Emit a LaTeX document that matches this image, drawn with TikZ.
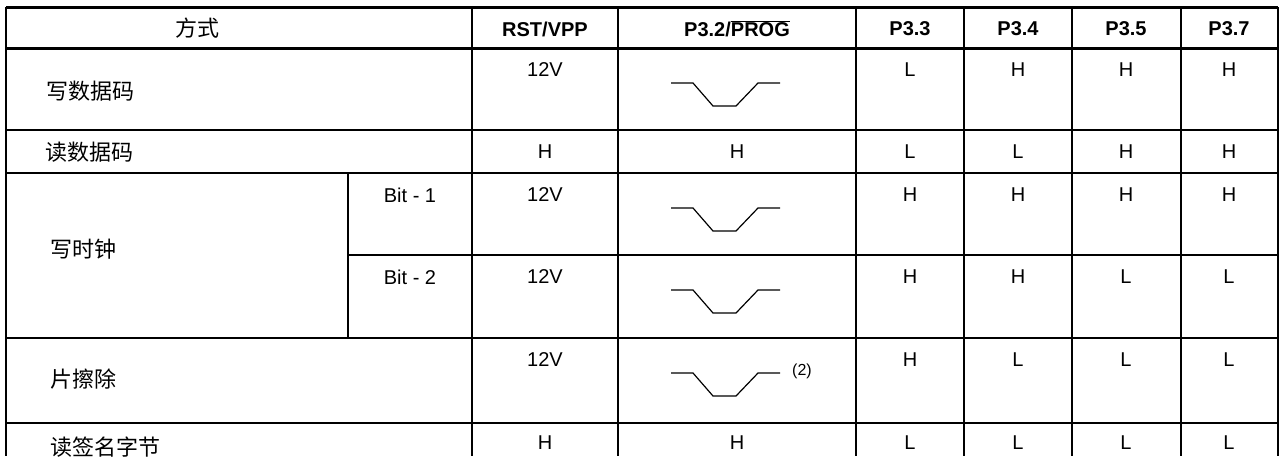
\documentclass[tikz,border=0pt]{standalone}
\usepackage{fontspec}
\setmainfont{Liberation Sans}
\newfontfamily\cjk{Noto Sans CJK SC}
\usepackage{tikz}

\tikzset{
  head/.style={font=\fontsize{20}{22}\selectfont\bfseries},
  rowname/.style={anchor=west,font=\fontsize{22}{24}\selectfont\cjk}
}

\begin{document}
\begin{tikzpicture}
[x=1pt,y=-1pt,font=\fontsize{20}{22}\selectfont,inner sep=0pt]
\useasboundingbox (0,0) rectangle (1279,456);

% header
\node[font=\fontsize{22}{24}\selectfont\cjk] (h0) at (197,28) {方式};
\node[head] (h1) at (545,29) {RST/VPP};
\node[head] (h2) at (737,29) {P3.2/$\overline{\mbox{PROG}}$};
\node[head] (h3) at (910,29) {P3.3};
\node[head] (h4) at (1018,29) {P3.4};
\node[head] (h5) at (1126,29) {P3.5};
\node[head] (h6) at (1229,29) {P3.7};

% row names
\node[rowname] (r1) at (46,91) {写数据码};
\node[rowname] (r2) at (45,152) {读数据码};
\node[rowname] (r3) at (50,249) {写时钟};
\node (b1) at (410,195) {Bit - 1};
\node (b2) at (410,277) {Bit - 2};
\node[rowname] (r4) at (50,379) {片擦除};
\node[rowname] (r5) at (50,447) {读签名字节};
\node[anchor=west,font=\fontsize{16}{18}\selectfont] (n2) at (792,371) {(2)};

% values
\foreach \y/\a/\c/\d/\e/\f in {70/12V/L/H/H/H,195/12V/H/H/H/H,277/12V/H/H/L/L,360/12V/H/L/L/L}
{
\node at (545,\y) {\a};
\node at (910,\y) {\c};
\node at (1018,\y) {\d};
\node at (1126,\y) {\e};
\node at (1229,\y) {\f};
}
\foreach \y/\a/\b/\c/\d/\e/\f in {152/H/H/L/L/H/H,443/H/H/L/L/L/L}
{
\node at (545,\y) {\a};
\node at (737,\y) {\b};
\node at (910,\y) {\c};
\node at (1018,\y) {\d};
\node at (1126,\y) {\e};
\node at (1229,\y) {\f};
}

% pulses
\foreach \t in {48,173,255,338}
\draw[line width=1.2pt] (671,\t+35) -- (693,\t+35) -- (713,\t+58) -- (736,\t+58) -- (758,\t+35) -- (780,\t+35);

% grid
\draw[line width=3pt] (6,7) -- (1278,7);
\draw[line width=3pt] (6,48) -- (1278,48);
\foreach \t in {130,173,338,423}
\draw[line width=1.5pt] (6,\t) -- (1278,\t);
\draw[line width=1.5pt] (348,255) -- (1278,255);
\foreach \x in {6,1278}
\draw[line width=1.5pt] (\x,7) -- (\x,456);
\foreach \x in {472,618,856,964,1072,1181}
\draw[line width=1.5pt] (\x,7) -- (\x,456);
\draw[line width=1.5pt] (348,173) -- (348,338);
\end{tikzpicture}
\end{document}
